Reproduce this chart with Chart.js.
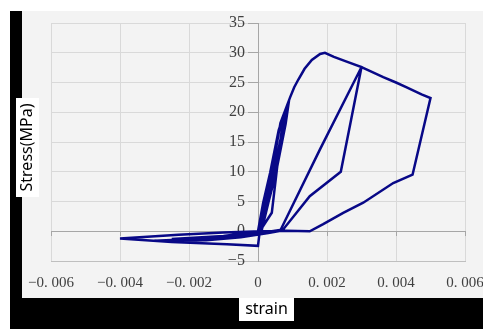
<!DOCTYPE html>
<html>
<head>
<meta charset="utf-8">
<script src="https://cdn.jsdelivr.net/npm/chart.js@4.4.0/dist/chart.umd.min.js"></script>
<style>
  html, body { margin: 0; padding: 0; background: #fff; overflow: hidden; }
  #wrap { position: relative; width: 483px; height: 329px; }
</style>
</head>
<body>
<div id="wrap"><canvas id="chart" width="483" height="329"></canvas></div>
<script>
// strain / stress path, in loading order
const strain = [
  0, 0.00015, 0.00035, 0.0006, 0.00075,
  0.00072, 0.00058, 0.0004, 0.00005,
  -0.001, -0.0025,
  -0.0012, 0,
  0.0001, 0.00025, 0.00045, 0.00075, 0.0009,
  0.0008, 0.00052, 0.0003, 0.0001,
  -0.001, -0.0023, -0.004,
  -0.0025, -0.0009, 0,
  0.00005, 0.0002, 0.0004, 0.00065, 0.00093, 0.00105, 0.00117, 0.00135, 0.00156, 0.0018, 0.00194, 0.0022, 0.00257, 0.003,
  0.0027, 0.0024, 0.0015, 0.00073, 0.0004,
  -0.0005, -0.0015, -0.003,
  -0.0015, -0.0005, 0.0003, 0.00064,
  0.0018, 0.003,
  0.0033, 0.00363, 0.004, 0.00431, 0.00474, 0.005,
  0.00448, 0.00392, 0.00305, 0.00247, 0.00189, 0.0015, 0.0008, 0.0003, 0
];
const stress = [
  0, 4.8, 9.8, 17, 19.5,
  18.5, 12, 3.1, 0,
  -0.8, -1.3,
  -1.3, -0.5,
  0, 4.8, 9.8, 18.2, 22,
  18, 9.8, 4.8, 0,
  -0.2, -0.6, -1.2,
  -1.8, -2.2, -2.45,
  0, 4.8, 9.8, 18.2, 22.5, 24.2, 25.5, 27.3, 28.8, 29.8, 30, 29.3, 28.5, 27.6,
  18.8, 10, 5.9, 0.3, 0,
  -0.6, -1.2, -1.6,
  -1.5, -1.0, -0.3, 0.05,
  13.8, 27.6,
  26.8, 25.9, 25, 24.2, 23.0, 22.4,
  9.5, 8.1, 4.8, 3.1, 1.2, 0, 0.1, 0, 0
];

const xTicks = [-0.006, -0.004, -0.002, 0, 0.002, 0.004, 0.006];
const xTickLabels = ["−0. 006", "−0. 004", "−0. 002", "0", "0. 002", "0. 004", "0. 006"];
const yTicks = [-5, 0, 5, 10, 15, 20, 25, 30, 35];
const yTickLabels = ["−5", "0", "5", "10", "15", "20", "25", "30", "35"];

const points = strain.map((s, i) => ({ x: s, y: stress[i] }));

const frame = {
  id: "frame",
  beforeDraw(chart) {
    const ctx = chart.ctx;
    ctx.save();
    ctx.fillStyle = "#ffffff";
    ctx.fillRect(0, 0, chart.width, chart.height);
    ctx.fillStyle = "#000000";
    ctx.fillRect(10, 11, chart.width - 10, chart.height - 11);
    ctx.fillStyle = "#f3f3f3";
    ctx.fillRect(22, 11, chart.width - 22, 287);
    ctx.restore();
  },
  afterDraw(chart) {
    const ctx = chart.ctx;
    ctx.save();
    ctx.font = '16px "Noto Sans"';
    ctx.textAlign = "center";
    ctx.textBaseline = "middle";
    // x title
    ctx.fillStyle = "#ffffff";
    ctx.fillRect(239, 298, 55, 23);
    ctx.fillStyle = "#000000";
    ctx.fillText("strain", 266.5, 309.5);
    // y title
    ctx.fillStyle = "#ffffff";
    ctx.fillRect(16, 98, 23, 99);
    ctx.translate(27.5, 147.5);
    ctx.rotate(-Math.PI / 2);
    ctx.fillStyle = "#000000";
    ctx.fillText("Stress(MPa)", 0, 0);
    ctx.restore();
  }
};

const yLabelFn = (v) => {
  const i = yTicks.indexOf(v);
  return i >= 0 ? yTickLabels[i] : "";
};

new Chart(document.getElementById("chart"), {
  type: "scatter",
  data: {
    datasets: [{
      data: points,
      showLine: true,
      borderColor: "rgb(8,8,135)",
      borderWidth: 2.5,
      pointRadius: 0,
      tension: 0,
      fill: false
    }]
  },
  options: {
    responsive: false,
    animation: false,
    events: [],
    layout: { padding: { left: 51, right: 18, top: 23, bottom: 24 } },
    plugins: { legend: { display: false }, tooltip: { enabled: false } },
    scales: {
      x: {
        type: "linear",
        min: -0.006,
        max: 0.006,
        afterBuildTicks: (scale) => { scale.ticks = xTicks.map(v => ({ value: v })); },
        afterFit: (scale) => { scale.paddingLeft = 0; scale.paddingRight = 0; },
        ticks: {
          padding: 13,
          maxRotation: 0,
          autoSkip: false,
          color: "#404040",
          font: { family: '"Liberation Serif"', size: 15 },
          callback: (v) => {
            const i = xTicks.findIndex(t => Math.abs(t - v) < 1e-9);
            return i >= 0 ? xTickLabels[i] : "";
          }
        },
        grid: { color: "#d9d9d9", drawTicks: false },
        border: { color: "#bfbfbf" }
      },
      xZero: {
        type: "linear",
        axis: "x",
        position: { y: 0 },
        min: -0.006,
        max: 0.006,
        afterBuildTicks: (scale) => { scale.ticks = xTicks.map(v => ({ value: v })); },
        afterFit: (scale) => { scale.paddingLeft = 0; scale.paddingRight = 0; },
        ticks: { display: false },
        grid: { drawOnChartArea: false, tickColor: "#a6a6a6", tickLength: 4 },
        border: { color: "#a6a6a6" }
      },
      y: {
        type: "linear",
        position: { x: 0 },
        min: -5,
        max: 35,
        afterBuildTicks: (scale) => { scale.ticks = yTicks.map(v => ({ value: v })); },
        ticks: { display: false },
        grid: {
          color: "#d9d9d9",
          tickColor: "#a6a6a6",
          tickLength: 10
        },
        border: { color: "#a6a6a6" }
      },
      yLabels: {
        type: "linear",
        axis: "y",
        position: { x: -0.00038 },
        min: -5,
        max: 35,
        afterBuildTicks: (scale) => { scale.ticks = yTicks.map(v => ({ value: v })); },
        ticks: {
          color: "#404040",
          font: { family: '"Liberation Serif"', size: 16 },
          callback: yLabelFn
        },
        grid: { display: false, drawTicks: false },
        border: { display: false }
      }
    }
  },
  plugins: [frame]
});
</script>
</body>
</html>
